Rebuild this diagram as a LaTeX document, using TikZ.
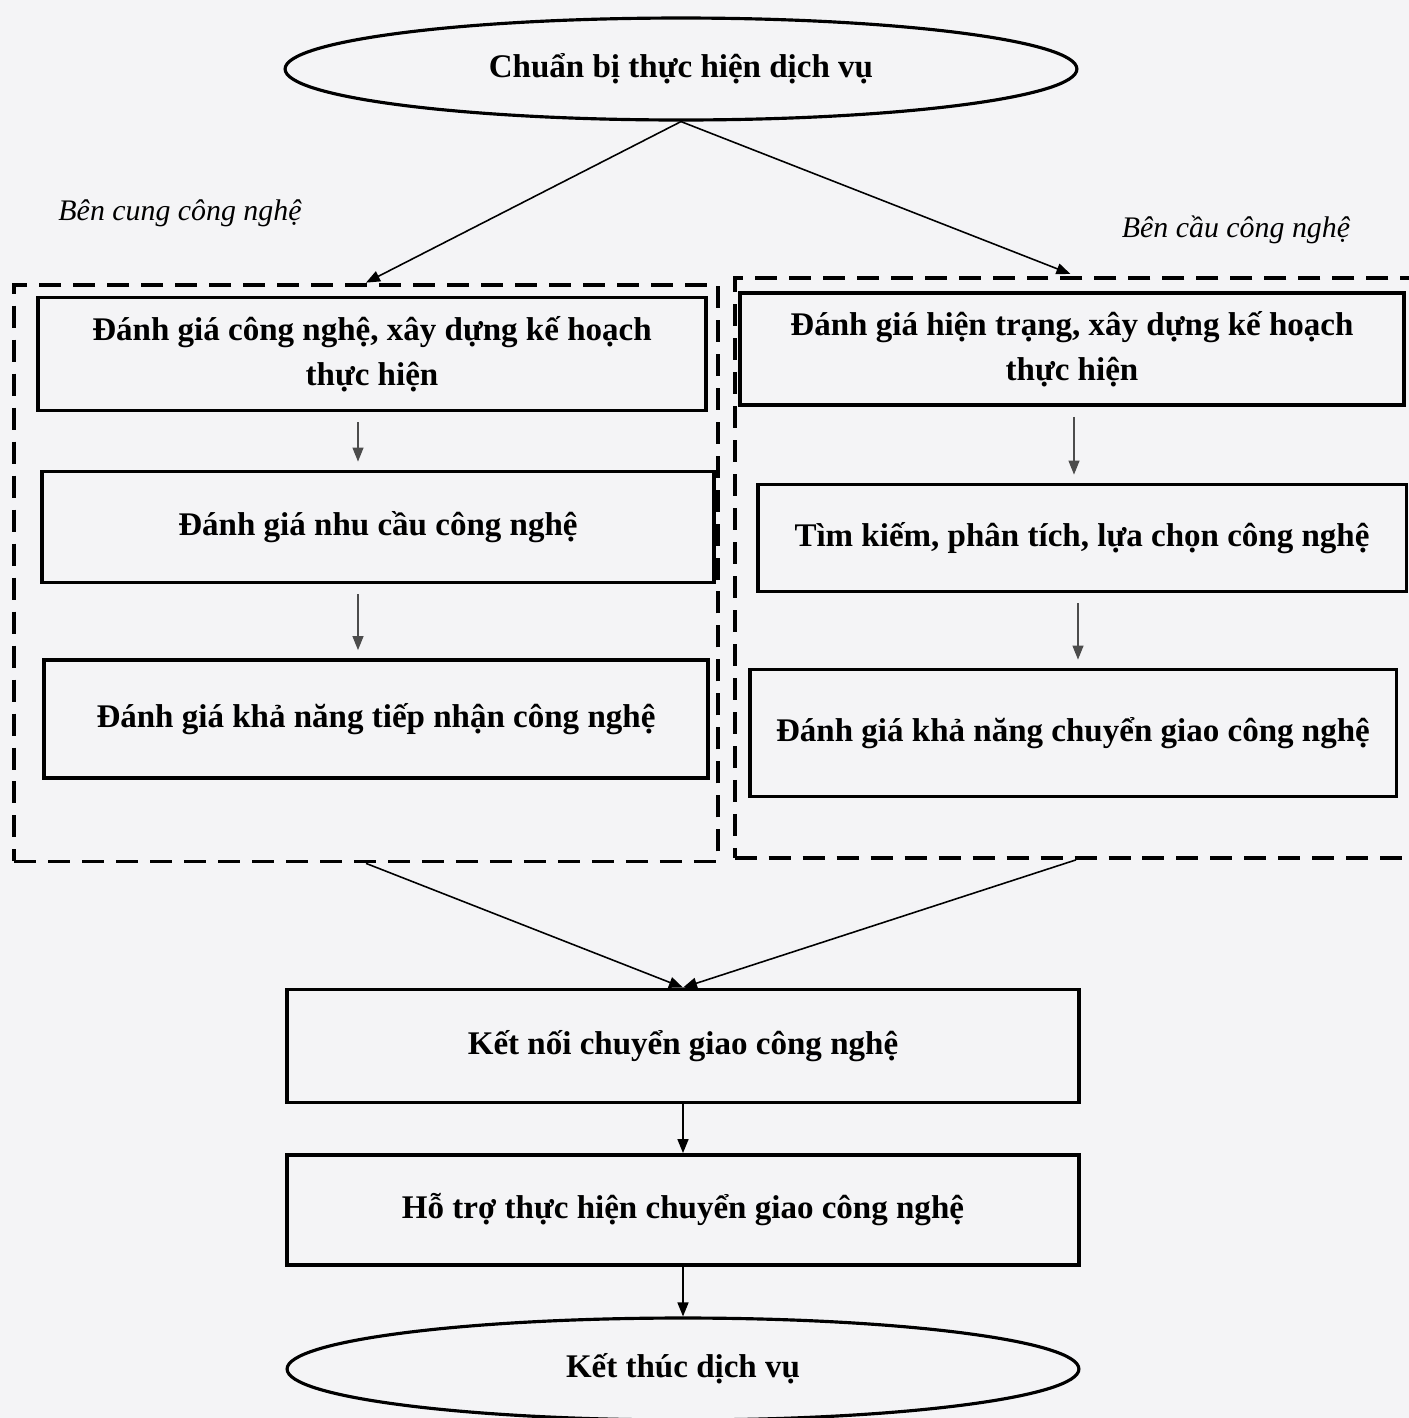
\documentclass[tikz,border=0pt]{standalone}
\usepackage{fontspec}
\setmainfont{Liberation Serif}
\usepackage{tikz}
\usetikzlibrary{positioning, arrows.meta, shapes.geometric}
\definecolor{scanbg}{RGB}{244,244,246}

\begin{document}
\begin{tikzpicture}[
    x=0.02cm, y=-0.02cm,
    >={Triangle[length=0.28cm, width=0.22cm]},
    font=\fontsize{18.8}{25.6}\selectfont\bfseries,
    stepbox/.style={
        draw,
        line width=2.2pt,
        align=center,
        inner sep=0pt
    },
    termbox/.style={
        draw,
        ellipse,
        line width=1.8pt,
        inner sep=0pt,
        minimum width=15.84cm,
        minimum height=2.04cm
    },
    groupbox/.style={
        draw,
        line width=2.2pt,
        dash pattern=on 0.44cm off 0.24cm,
        inner sep=0pt
    },
    sidelabel/.style={
        font=\fontsize{17}{20}\selectfont\itshape
    },
    flow/.style={->, line width=0.9pt},
    smallflow/.style={->, line width=0.7pt, black!70,
        shorten <=0.2cm, shorten >=0.16cm}
]
    \useasboundingbox (0,0) rectangle (1409,1418);
    \fill[scanbg] (0,0) rectangle (1409,1418);

    % start and end of the service
    \node[termbox] (start) at (681, 69) {Chuẩn bị thực hiện dịch vụ};
    \node[termbox] (finish) at (683, 1369) {Kết thúc dịch vụ};

    % the two sides
    \node[groupbox, minimum width=14.08cm, minimum height=11.54cm] (grpL) at (366, 573) {};
    \node[groupbox, minimum width=13.66cm, minimum height=11.6cm] (grpR) at (1076, 568) {};
    \node[sidelabel] (supply) at (180, 213) {Bên cung công nghệ};
    \node[sidelabel] (demand) at (1236, 230) {Bên cầu công nghệ};

    \node[stepbox, minimum width=13.36cm, minimum height=2.26cm] (L1) at (372, 354) {Đánh giá công nghệ, xây dựng kế hoạch\\thực hiện};
    \node[stepbox, minimum width=13.44cm, minimum height=2.22cm] (L2) at (378, 527) {Đánh giá nhu cầu công nghệ};
    \node[stepbox, minimum width=13.28cm, minimum height=2.36cm] (L3) at (376, 719) {Đánh giá khả năng tiếp nhận công nghệ};

    \node[stepbox, minimum width=13.28cm, minimum height=2.24cm] (R1) at (1072, 349) {Đánh giá hiện trạng, xây dựng kế hoạch\\thực hiện};
    \node[stepbox, minimum width=12.98cm, minimum height=2.14cm] (R2) at (1082, 538) {Tìm kiếm, phân tích, lựa chọn công nghệ};
    \node[stepbox, minimum width=12.94cm, minimum height=2.54cm] (R3) at (1073, 733) {Đánh giá khả năng chuyển giao công nghệ};

    % joint steps
    \node[stepbox, minimum width=15.84cm, minimum height=2.26cm] (K) at (683, 1046) {Kết nối chuyển giao công nghệ};
    \node[stepbox, minimum width=15.84cm, minimum height=2.2cm] (H) at (683, 1210) {Hỗ trợ thực hiện chuyển giao công nghệ};

    \draw[flow] (start.south) -- (grpL.north);
    \draw[flow, shorten >=0.12cm] (start.south) -- (grpR.north);

    \draw[smallflow] (L1.south -| 358,0) -- (L2.north -| 358,0);
    \draw[smallflow] (L2.south -| 358,0) -- (L3.north -| 358,0);
    \draw[smallflow] (R1.south -| 1074,0) -- (R2.north -| 1074,0);
    \draw[smallflow] (R2.south -| 1078,0) -- (R3.north -| 1078,0);

    \draw[flow] (grpL.south) -- (K.north);
    \draw[flow] (grpR.south) -- (K.north);
    \draw[flow] (K) -- (H);
    \draw[flow] (H) -- (finish);
\end{tikzpicture}
\end{document}
